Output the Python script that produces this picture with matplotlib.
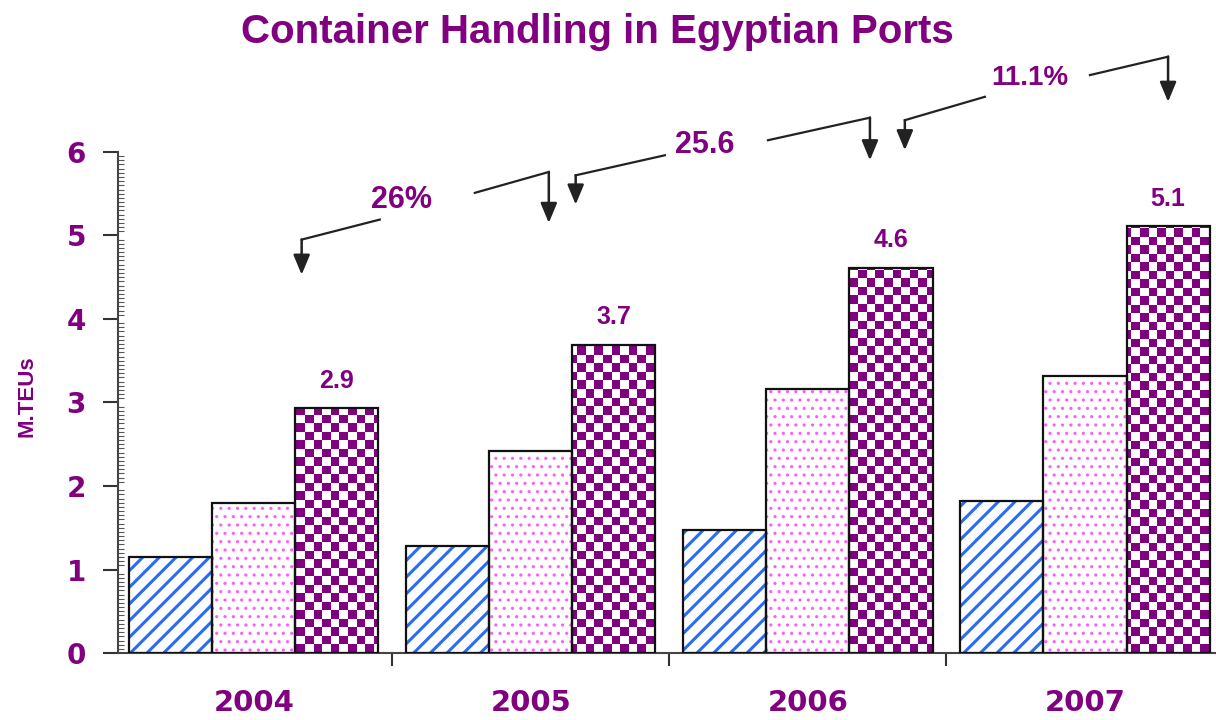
import matplotlib
matplotlib.use("Agg")
import numpy as np
import matplotlib.pyplot as plt
from matplotlib.colors import ListedColormap
from matplotlib.ticker import MultipleLocator, FixedLocator

# Data (million TEUs)
years = ["2004", "2005", "2006", "2007"]
series_a = [1.15, 1.28, 1.47, 1.82]   # blue striped
series_b = [1.80, 2.42, 3.16, 3.32]   # pink dotted
totals = [2.93, 3.69, 4.61, 5.11]     # purple checkered
total_labels = ["2.9", "3.7", "4.6", "5.1"]
growth_labels = ["26%", "25.6", "11.1%"]

purple = "#800080"
plt.rcParams["font.family"] = ["Liberation Sans", "DejaVu Sans"]
plt.rcParams["font.weight"] = "bold"

fig = plt.figure(figsize=(12.16, 7.2), dpi=100)
ax = fig.add_axes([0.097, 0.093, 0.903, 0.696])
xlim = (-0.49, 3.473)
ylim = (0, 6)

x = np.arange(len(years))
w = 0.3


def hatched_bars(xs, vals, face, hcolor, hatch, hlw):
    plt.rcParams["hatch.linewidth"] = hlw
    bars = ax.bar(xs, vals, w, color=face, edgecolor=hcolor, linewidth=0,
                  hatch=hatch, zorder=2)
    for b in bars:
        try:
            b.set_hatch_linewidth(hlw)
        except AttributeError:
            pass
    return bars


hatched_bars(x - w, series_a, "white", "#2a6cf5", "//", 2.2)
hatched_bars(x, series_b, "white", "#ff5cff", "..", 1.1)
tot_bars = ax.bar(x + w, totals, w, color="white", linewidth=0, zorder=2)

# checkerboard texture for the totals, clipped to each bar
cell = 8.5  # px
nx = int(round(0.903 * 1216 / cell))
ny = int(round(0.696 * 720 / cell))
checker = np.indices((ny, nx)).sum(axis=0) % 2
cmap = ListedColormap(["white", purple])
for b in tot_bars:
    im = ax.imshow(checker, cmap=cmap, extent=(*xlim, *ylim), aspect="auto",
                   interpolation="nearest", zorder=2.5)
    im.set_clip_path(b)

# black outlines
for xs, vals in ((x - w, series_a), (x, series_b), (x + w, totals)):
    ax.bar(xs, vals, w, facecolor="none", edgecolor="#111111", linewidth=1.6,
           zorder=3)

for i, v, lab in zip(x, totals, total_labels):
    ax.text(i + w, v + 0.33, lab, ha="center", va="center", color=purple,
            fontsize=18, fontweight="bold")

ax.set_xlim(*xlim)
ax.set_ylim(*ylim)

# y axis
ax.yaxis.set_major_locator(MultipleLocator(1))
ax.yaxis.set_minor_locator(MultipleLocator(0.05))
ax.tick_params(axis="y", which="major", length=11, width=1.5, color="#333333",
               pad=12, labelsize=20, labelcolor=purple)
ax.tick_params(axis="y", which="minor", direction="in", length=4, width=0.8,
               color="#555555")

# x axis: boundary ticks, labels at group centres
ax.xaxis.set_major_locator(FixedLocator([-0.5, 0.5, 1.5, 2.5]))
ax.xaxis.set_minor_locator(FixedLocator(x))
ax.set_xticklabels([], minor=False)
ax.set_xticklabels(years, minor=True)
ax.tick_params(axis="x", which="major", length=9, width=1.5, color="#333333")
ax.tick_params(axis="x", which="minor", length=0, pad=26, labelsize=21,
               labelcolor=purple)
for t in ax.get_yticklabels() + ax.get_xticklabels(minor=True):
    t.set_fontweight("bold")
    t.set_family("DejaVu Sans")

for s in ["top", "right"]:
    ax.spines[s].set_visible(False)
for s in ["left", "bottom"]:
    ax.spines[s].set_color("#444444")
    ax.spines[s].set_linewidth(1.5)

fig.text(0.022, 0.45, "M.TEUs", rotation=90, ha="center", va="center",
         color=purple, fontsize=16, fontweight="bold")

fig.text(0.491, 0.955, "Container Handling in Egyptian Ports", ha="center",
         va="center", color=purple, fontsize=29, fontweight="bold")

# growth annotations: (left tip, left corner, left line end, text pos,
#                      right line start, right corner, right tip)
arrows = [
    ((0.173, 4.53), (0.173, 4.95), (0.455, 5.19), (0.534, 5.43),
     (0.798, 5.51), (1.065, 5.76), (1.065, 5.15)),
    ((1.162, 5.37), (1.162, 5.72), (1.484, 5.96), (1.628, 6.08),
     (1.856, 6.14), (2.224, 6.41), (2.224, 5.90)),
    ((2.350, 6.02), (2.350, 6.38), (2.639, 6.66), (2.801, 6.89),
     (3.018, 6.92), (3.300, 7.14), (3.300, 6.60)),
]
label_sizes = [22, 22, 20]
lc = "#222222"
for lab, fs, (tip1, c1, e1, tp, s2, c2, tip2) in zip(growth_labels, label_sizes, arrows):
    ax.plot([c1[0], e1[0]], [c1[1], e1[1]], color=lc, lw=1.6, clip_on=False)
    ax.plot([s2[0], c2[0]], [s2[1], c2[1]], color=lc, lw=1.6, clip_on=False)
    for c, t in ((c1, tip1), (c2, tip2)):
        ax.annotate("", xy=t, xytext=c, annotation_clip=False,
                    arrowprops=dict(arrowstyle="-|>,head_length=0.6,head_width=0.25",
                                    color=lc, lw=1.8, mutation_scale=20,
                                    shrinkA=0, shrinkB=0))
    ax.text(tp[0], tp[1], lab, ha="center", va="center", color=purple,
            fontsize=fs, fontweight="bold", clip_on=False)

fig.savefig("out.png", dpi=100)
